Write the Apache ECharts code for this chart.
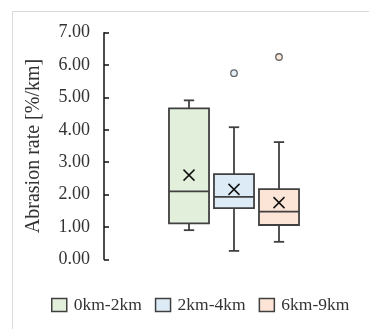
<!DOCTYPE html>
<html>
<head>
<meta charset="utf-8">
<script src="https://cdn.jsdelivr.net/npm/echarts@6/dist/echarts.min.js"></script>
<style>
  html, body { margin: 0; padding: 0; background: #fff; }
  #chart { width: 369px; height: 329px; }
</style>
</head>
<body>
<div id="chart"></div>
<script>
// Abrasion rate per distance group: five-number summaries, means, outliers
const groups = ['0km-2km', '2km-4km', '6km-9km'];
const whiskerLow = [0.90, 0.26, 0.54];
const q1 = [1.11, 1.58, 1.06];
const median = [2.10, 1.93, 1.47];
const q3 = [4.66, 2.63, 2.17];
const whiskerHigh = [4.91, 4.08, 3.62];
const mean = [2.60, 2.16, 1.75];
const outliers = [[], [5.75], [6.25]];
const fills = ['#E2EFDA', '#DDEBF7', '#FCE4D6'];

const yMin = 0, yMax = 7, yStep = 1;
const SERIF = '"Liberation Serif", "Times New Roman", serif';
const INK = '#404040';

// Box, whiskers, caps, median line and mean cross for one group
function renderBox(params, api) {
  const x = api.value(0);
  const at = v => api.coord([x, v]);
  const band = api.size([1, 0])[0];
  const half = band * 0.445;
  const cap = band * 0.115;
  const pLow = at(api.value(1)), pQ1 = at(api.value(2)), pMed = at(api.value(3));
  const pQ3 = at(api.value(4)), pHigh = at(api.value(5)), pMean = at(api.value(6));
  const cx = pLow[0];
  const stroke = { stroke: INK, lineWidth: 1.8 };
  const line = (x1, y1, x2, y2, st) => ({
    type: 'line', shape: { x1, y1, x2, y2 }, style: Object.assign({}, st || stroke)
  });
  const m = 5.5;
  return {
    type: 'group',
    children: [
      line(cx, pHigh[1], cx, pQ3[1]),
      line(cx, pQ1[1], cx, pLow[1]),
      line(cx - cap, pHigh[1], cx + cap, pHigh[1]),
      line(cx - cap, pLow[1], cx + cap, pLow[1]),
      {
        type: 'rect',
        shape: { x: cx - half, y: pQ3[1], width: half * 2, height: pQ1[1] - pQ3[1] },
        style: { fill: api.visual('color'), stroke: INK, lineWidth: 1.8 }
      },
      line(cx - half, pMed[1], cx + half, pMed[1]),
      line(cx - m, pMean[1] - m, cx + m, pMean[1] + m, { stroke: '#111', lineWidth: 1.5 }),
      line(cx - m, pMean[1] + m, cx + m, pMean[1] - m, { stroke: '#111', lineWidth: 1.5 })
    ]
  };
}

const boxSeries = groups.map((g, i) => ({
  type: 'custom',
  name: g,
  renderItem: renderBox,
  itemStyle: { color: fills[i], borderColor: INK, borderWidth: 1.5 },
  encode: { x: 0, y: [1, 2, 3, 4, 5, 6] },
  data: [[i, whiskerLow[i], q1[i], median[i], q3[i], whiskerHigh[i], mean[i]]],
  z: 2
}));

const outlierSeries = groups.map((g, i) => ({
  type: 'scatter',
  id: 'outliers-' + i,
  symbol: 'circle',
  symbolSize: 6.5,
  itemStyle: { color: fills[i], borderColor: INK, borderWidth: 1.3 },
  data: outliers[i].map(v => [i, v]),
  z: 3
}));

const chart = echarts.init(document.getElementById('chart'), null, { renderer: 'canvas' });
chart.setOption({
  animation: false,
  backgroundColor: '#fff',
  graphic: [{
    type: 'rect',
    shape: { x: 12.5, y: 11.5, width: 420, height: 420 },
    style: { fill: 'none', stroke: '#d9d9d9', lineWidth: 1 },
    silent: true,
    z: -10
  }],
  grid: { left: 166.5, right: 67.5, top: 32.7, bottom: 69.7, containLabel: false },
  xAxis: {
    type: 'category',
    data: groups,
    show: false
  },
  yAxis: {
    type: 'value',
    min: yMin,
    max: yMax,
    interval: yStep,
    offset: 62.5,
    name: 'Abrasion rate [%/km]',
    nameLocation: 'middle',
    nameGap: 60,
    nameTextStyle: { fontFamily: SERIF, fontSize: 20, color: '#333' },
    axisLine: { show: true, lineStyle: { color: '#111', width: 1.5 } },
    axisTick: { show: true, inside: true, length: 5, lineStyle: { color: '#111', width: 1.5 } },
    axisLabel: {
      formatter: v => v.toFixed(2),
      fontFamily: SERIF,
      fontSize: 18,
      color: '#333',
      margin: 14
    },
    splitLine: { show: false }
  },
  legend: {
    data: groups,
    left: 46,
    top: 291,
    icon: 'rect',
    itemWidth: 15,
    itemHeight: 13,
    itemGap: 13,
    itemStyle: { borderColor: INK, borderWidth: 1.5 },
    textStyle: { fontFamily: SERIF, fontSize: 17.5, color: '#333', padding: [0, 0, 0, 2] }
  },
  series: boxSeries.concat(outlierSeries)
});
</script>
</body>
</html>
